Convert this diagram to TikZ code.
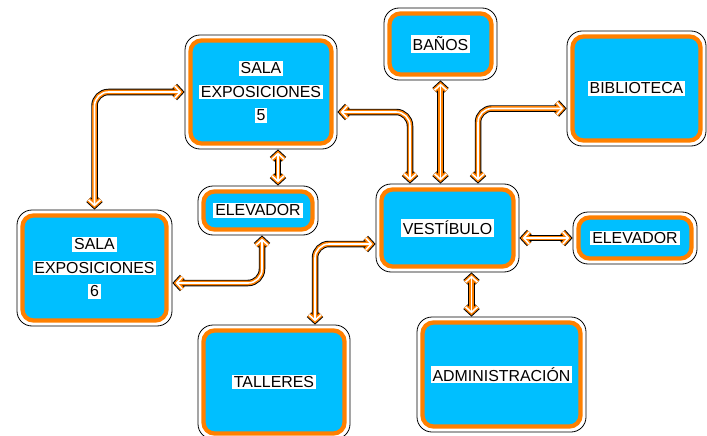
\documentclass[tikz,border=0pt]{standalone}
\usepackage{fontspec}
\setmainfont{Liberation Sans}
\usetikzlibrary{arrows.meta}
\definecolor{boxcyan}{RGB}{0,191,255}
\definecolor{boxorange}{RGB}{255,128,0}
\newcommand\hlt[1]{{\setlength{\fboxsep}{1.8pt}\colorbox{white}{#1}}}
\begin{document}
\begin{tikzpicture}[x=1pt,y=-1pt,
 box/.style={draw=black, line width=0.8pt, fill=white, rounded corners=15pt, inner sep=0pt, align=center,
   font=\fontsize{15.9}{23.5}\selectfont,
   path picture={\draw[boxorange, line width=4.3pt, fill=boxcyan, rounded corners=11pt]
     ([shift={(5.5pt,5.5pt)}]path picture bounding box.south west) rectangle
     ([shift={(-5.5pt,-5.5pt)}]path picture bounding box.north east);}},
 conn/.style={draw=white, line width=1.6pt, rounded corners=14pt, shorten >=3.2pt, shorten <=3.2pt,
   {Straight Barb[length=5.5pt,width=12pt]}-{Straight Barb[length=5.5pt,width=12pt]},
   preaction={draw=black, line width=6.5pt, shorten >=0pt, shorten <=0pt},
   preaction={draw=boxorange, line width=4.6pt, shorten >=1.3pt, shorten <=1.3pt}}
]
\useasboundingbox (0,0) rectangle (707,436);

\node[box, minimum width=152pt, minimum height=114pt] (s5) at (261,92) {\hlt{SALA}\\\hlt{EXPOSICIONES}\\\hlt{5}};
\node[box, minimum width=155pt, minimum height=116pt] (s6) at (94.5,268) {\hlt{SALA}\\\hlt{EXPOSICIONES}\\\hlt{6}};
\node[box, minimum width=120pt, minimum height=49pt] (el1) at (258,210.5) {\hlt{ELEVADOR}};
\node[box, minimum width=143pt, minimum height=88pt] (ves) at (447.5,228) {\hlt{VESTÍBULO}};
\node[box, minimum width=113pt, minimum height=72pt] (ban) at (440.5,44) {\hlt{BAÑOS}};
\node[box, minimum width=139pt, minimum height=115pt] (bib) at (636.5,88.5) {\hlt{BIBLIOTECA}};
\node[box, minimum width=124pt, minimum height=52pt] (el2) at (635,238) {\hlt{ELEVADOR}};
\node[box, minimum width=152pt, minimum height=114pt] (tal) at (274,382) {\hlt{TALLERES}};
\node[box, minimum width=169pt, minimum height=115pt] (adm) at (501.5,374.5) {\hlt{ADMINISTRACIÓN}};

\draw[conn] (s5.west) -| (s6.north);
\draw[conn] ([xshift=17pt]s5.south) -- ([xshift=20pt]el1.north);
\draw[conn] ([xshift=4pt]el1.south) |- ([yshift=-15pt]s6.east);
\draw[conn] ([yshift=-20pt]s5.east) -| ([xshift=-37.5pt]ves.north);
\draw[conn] (ban.south) -- (ban.south |- ves.north);
\draw[conn] ([yshift=-20pt]bib.west) -| ([xshift=30.5pt]ves.north);
\draw[conn] (ves.east |- el2.west) -- (el2.west);
\draw[conn] ([yshift=-16pt]ves.west) -| ([xshift=41pt]tal.north);
\draw[conn] ([xshift=24pt]ves.south) -- ([xshift=-30pt]adm.north);
\end{tikzpicture}
\end{document}
